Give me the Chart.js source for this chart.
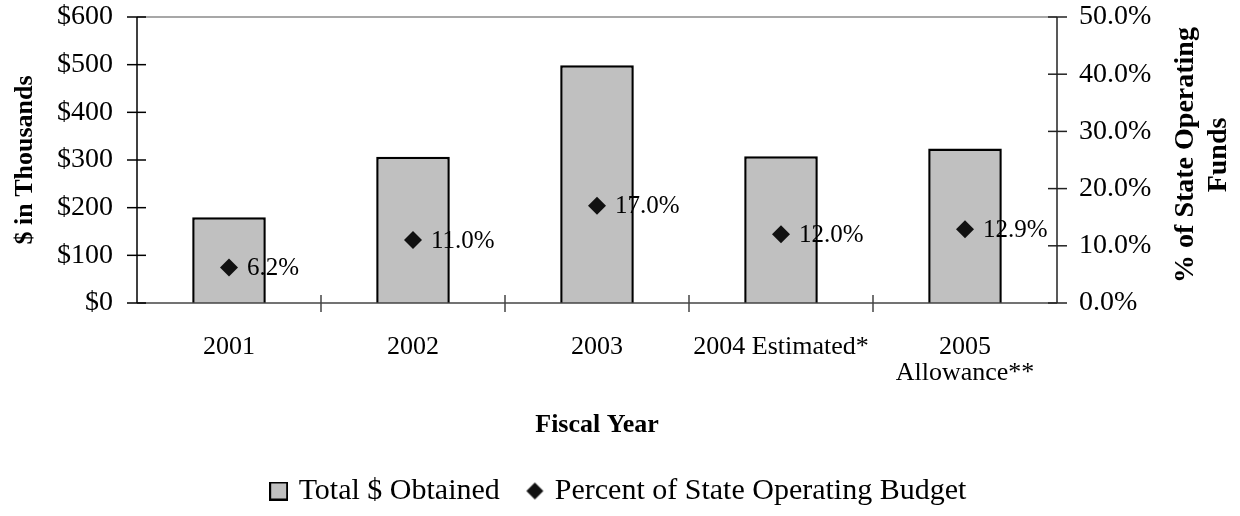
<!DOCTYPE html>
<html>
<head>
<meta charset="utf-8">
<script src="https://cdn.jsdelivr.net/npm/chart.js@4/dist/chart.umd.min.js"></script>
<style>
  html, body { margin: 0; padding: 0; background: #fff; }
  #wrap { width: 1240px; height: 516px; }
</style>
</head>
<body>
<div id="wrap"><canvas id="fundsChart" width="1240" height="516"></canvas></div>
<script>
// values
const years = ["2001", "2002", "2003", "2004 Estimated*", ["2005", "Allowance**"]];
const totalObtained = [180, 307, 499, 308, 324];
const percentOfBudget = [6.2, 11.0, 17.0, 12.0, 12.9];

const dollarMax = 600;
const dollarStep = 100;
const percentMax = 50;
const percentStep = 10;

const serif = "'Liberation Serif', 'Times New Roman', serif";

// small images for the legend markers
function legendSquare() {
    const c = document.createElement("canvas");
    c.width = 19; c.height = 19;
    const g = c.getContext("2d");
    g.fillStyle = "#c0c0c0";
    g.fillRect(1, 1, 17, 17);
    g.strokeStyle = "#000";
    g.lineWidth = 2;
    g.strokeRect(1, 1, 17, 17);
    return c;
}

function legendDiamond() {
    const c = document.createElement("canvas");
    c.width = 19; c.height = 19;
    const g = c.getContext("2d");
    g.fillStyle = "#111";
    g.beginPath();
    g.moveTo(9.5, 1);
    g.lineTo(18, 9.5);
    g.lineTo(9.5, 18);
    g.lineTo(1, 9.5);
    g.closePath();
    g.fill();
    return c;
}

const squareImg = legendSquare();
const diamondImg = legendDiamond();

// axis lines and tick marks that cross them
const axesPlugin = {
    id: "axesPlugin",
    afterDatasetsDraw(chart) {
        const ctx = chart.ctx;
        const area = chart.chartArea;
        const xs = chart.scales.x;
        const ys = chart.scales.y;
        const ys1 = chart.scales.y1;

        function seg(x1, y1, x2, y2, color) {
            ctx.strokeStyle = color;
            ctx.beginPath();
            ctx.moveTo(x1, y1);
            ctx.lineTo(x2, y2);
            ctx.stroke();
        }

        ctx.save();
        ctx.lineWidth = 1.5;

        seg(area.left, area.top, area.right, area.top, "#8a8a8a");
        seg(area.left, area.top, area.left, area.bottom, "#000");
        seg(area.right, area.top, area.right, area.bottom, "#222");
        seg(area.left, area.bottom, area.right, area.bottom, "#444");

        ys.ticks.forEach((t) => {
            const py = ys.getPixelForValue(t.value);
            seg(area.left - 10, py, area.left + 9, py, "#000");
        });

        ys1.ticks.forEach((t) => {
            const py = ys1.getPixelForValue(t.value);
            seg(area.right - 9, py, area.right + 10, py, "#222");
        });

        for (let i = 0; i < years.length - 1; i++) {
            const px = (xs.getPixelForValue(i) + xs.getPixelForValue(i + 1)) / 2;
            seg(px, area.bottom - 8, px, area.bottom + 9, "#444");
        }

        // value labels next to the diamonds
        const meta = chart.getDatasetMeta(1);
        ctx.fillStyle = "#000";
        ctx.font = "25px " + serif;
        ctx.textAlign = "left";
        ctx.textBaseline = "middle";
        meta.data.forEach((pt, i) => {
            ctx.fillText(percentOfBudget[i].toFixed(1) + "%", pt.x + 18, pt.y + 1);
        });

        ctx.restore();
    },
    afterDraw(chart) {
        // right axis title reads bottom to top
        const ctx = chart.ctx;
        ctx.save();
        ctx.fillStyle = "#000";
        ctx.font = "bold 28px " + serif;
        ctx.textAlign = "center";
        ctx.textBaseline = "middle";
        ctx.translate(1186, 155);
        ctx.rotate(-Math.PI / 2);
        ctx.fillText("% of State Operating", 0, 0);
        ctx.fillText("Funds", 0, 33);
        ctx.restore();
    }
};

new Chart(document.getElementById("fundsChart"), {

    type: "bar",

    data: {

        labels: years,

        datasets: [

            {
                label: "Total $ Obtained",
                data: totalObtained,
                backgroundColor: "#c0c0c0",
                borderColor: "#000",
                borderWidth: 2.5,
                categoryPercentage: 1,
                barPercentage: 0.4,
                yAxisID: "y",
                order: 1
            },

            {
                type: "line",
                label: "Percent of State Operating Budget",
                data: percentOfBudget,
                showLine: false,
                pointStyle: "rectRot",
                pointRadius: 9,
                pointHoverRadius: 9,
                pointBackgroundColor: "#111",
                pointBorderWidth: 0,
                yAxisID: "y1",
                order: 0
            }

        ]

    },

    options: {

        responsive: false,
        animation: false,
        devicePixelRatio: 1,

        layout: {
            padding: { top: 17, bottom: 0, left: 0, right: 0 }
        },

        plugins: {

            tooltip: { enabled: false },

            legend: {
                position: "bottom",
                labels: {
                    usePointStyle: true,
                    pointStyleWidth: 10,
                    padding: 30,
                    color: "#000",
                    font: { family: serif, size: 30 },
                    sort: (a, b) => a.datasetIndex - b.datasetIndex,
                    generateLabels(chart) {
                        const items = Chart.defaults.plugins.legend.labels.generateLabels(chart);
                        items.forEach((item) => {
                            item.pointStyle = item.datasetIndex === 0 ? squareImg : diamondImg;
                        });
                        return items;
                    }
                }
            }

        },

        scales: {

            x: {
                grid: { display: false },
                border: { display: false },
                ticks: {
                    color: "#000",
                    font: { family: serif, size: 26, lineHeight: 1.0 },
                    padding: 23,
                    maxRotation: 0,
                    autoSkip: false
                },
                title: {
                    display: true,
                    text: "Fiscal Year",
                    color: "#000",
                    font: { family: serif, size: 26, weight: "bold" },
                    padding: { top: 0, bottom: 5 }
                },
                afterFit(scale) {
                    scale.height = 143;
                }
            },

            y: {
                position: "left",
                min: 0,
                max: dollarMax,
                grid: { display: false },
                border: { display: false },
                ticks: {
                    stepSize: dollarStep,
                    autoSkip: false,
                    color: "#000",
                    font: { family: serif, size: 28, lineHeight: 0.05 },
                    padding: 16,
                    callback: (v) => "$" + v
                },
                title: {
                    display: true,
                    text: "$ in Thousands",
                    color: "#000",
                    font: { family: serif, size: 26, weight: "bold" },
                    padding: { top: 10, bottom: 0 }
                },
                afterFit(scale) {
                    scale.width = 137;
                }
            },

            y1: {
                position: "right",
                min: 0,
                max: percentMax,
                grid: { display: false },
                border: { display: false },
                ticks: {
                    stepSize: percentStep,
                    autoSkip: false,
                    color: "#000",
                    font: { family: serif, size: 28, lineHeight: 0.05 },
                    padding: 14,
                    callback: (v) => v.toFixed(1) + "%"
                },
                afterFit(scale) {
                    scale.width = 183;
                }
            }

        }

    },

    plugins: [axesPlugin]

});
</script>
</body>
</html>
